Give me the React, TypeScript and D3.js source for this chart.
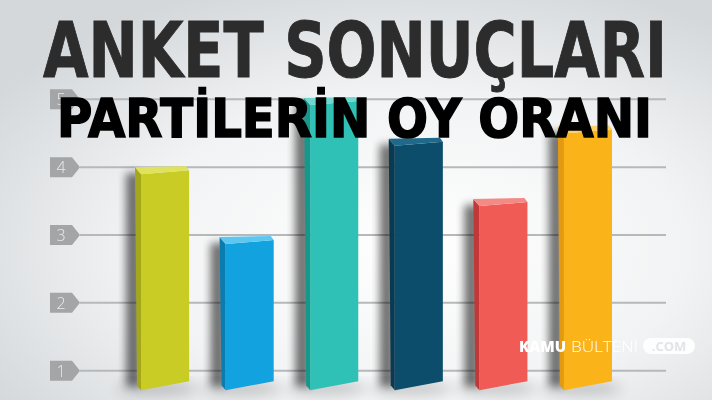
import React, { useEffect, useRef } from "react";
import * as d3 from "d3";

// Party bars (no names shown in the picture), values read against the 1..5 grid
const parties = ["P1", "P2", "P3", "P4", "P5", "P6"];
const values = [4.0, 2.97, 5.02, 4.42, 3.53, 4.6];
const frontColors = ["#c9cc24", "#12a2e0", "#2fc0b6", "#0c4d6b", "#f05b55", "#fbb31a"];
const sideColors = ["#a4a71a", "#0b7cb0", "#15988c", "#083a52", "#c23838", "#e39a10"];
const topColors = ["#dfe25a", "#5cc8f0", "#6cd8cf", "#1f6a8b", "#f48a86", "#fcd066"];
const ticks = [1, 2, 3, 4, 5];

const title = "ANKET SONUÇLARI";
const subtitle = "PARTİLERİN OY ORANI";

export default function App() {
  const svgRef = useRef<SVGSVGElement>(null);

  useEffect(() => {
    if (!svgRef.current) return;
    const width = 712;
    const height = 400;
    const svg = d3.select(svgRef.current);
    svg.selectAll("*").remove();

    const y = d3.scaleLinear().domain([1, 5]).range([370.7, 99.3]);
    const x = d3.scaleBand<string>().domain(parties).range([135, 612]).paddingInner(0.36);
    const base = y(0.86);

    const defs = svg.append("defs");
    const bg = defs.append("radialGradient")
      .attr("id", "bg").attr("cx", "58%").attr("cy", "62%").attr("r", "70%");
    bg.append("stop").attr("offset", "0%").attr("stop-color", "#ffffff");
    bg.append("stop").attr("offset", "55%").attr("stop-color", "#f2f3f4");
    bg.append("stop").attr("offset", "100%").attr("stop-color", "#d4d8db");

    defs.append("filter").attr("id", "blur").attr("x", "-50%").attr("y", "-50%")
      .attr("width", "200%").attr("height", "200%")
      .append("feGaussianBlur").attr("stdDeviation", 4);
    defs.append("filter").attr("id", "blurBig").attr("x", "-50%").attr("y", "-50%")
      .attr("width", "200%").attr("height", "200%")
      .append("feGaussianBlur").attr("stdDeviation", 7);

    svg.append("rect").attr("width", width).attr("height", height).attr("fill", "url(#bg)");

    // grid lines
    svg.append("g")
      .selectAll("line")
      .data(ticks)
      .join("line")
      .attr("x1", 80).attr("x2", 666)
      .attr("y1", d => y(d)).attr("y2", d => y(d))
      .attr("stroke", "#b6b8ba").attr("stroke-width", 2);

    // tick badges
    const tg = svg.append("g").selectAll("g").data(ticks).join("g")
      .attr("transform", d => `translate(0, ${y(d)})`);
    tg.append("path")
      .attr("d", "M50,-10 L72,-10 L80,0 L72,10 L50,10 Z")
      .attr("fill", "#a3a5a7");
    tg.append("text")
      .attr("x", 61).attr("y", 6)
      .attr("text-anchor", "middle")
      .attr("font-family", "'Open Sans', sans-serif")
      .attr("font-weight", 300)
      .attr("font-size", 16)
      .attr("fill", "#e9eaeb")
      .text(d => d);

    // ground shadows
    svg.append("g").selectAll("ellipse").data(parties).join("ellipse")
      .attr("cx", d => (x(d) ?? 0) + x.bandwidth() / 2 - 4)
      .attr("cy", base + 8)
      .attr("rx", x.bandwidth() * 0.75)
      .attr("ry", 6)
      .attr("fill", "#000").attr("opacity", 0.22)
      .attr("filter", "url(#blurBig)");

    // left drop shadows
    svg.append("g").selectAll("rect").data(parties).join("rect")
      .attr("x", d => (x(d) ?? 0) - 9)
      .attr("y", (d, i) => y(values[i]) + 6)
      .attr("width", 15)
      .attr("height", (d, i) => base - y(values[i]))
      .attr("fill", "#000").attr("opacity", 0.55)
      .attr("filter", "url(#blur)");

    const side = 6;
    const bars = svg.append("g").selectAll("g").data(parties).join("g");

    // side face
    bars.append("path")
      .attr("d", (d, i) => {
        const x0 = x(d) ?? 0;
        const t = y(values[i]);
        return `M${x0},${t} L${x0 + side},${t + 7} L${x0 + side},${base + 10} L${x0 + 2},${base + 5} Z`;
      })
      .attr("fill", (d, i) => sideColors[i]);

    // front face
    bars.append("path")
      .attr("d", (d, i) => {
        const x0 = x(d) ?? 0;
        const x1 = x0 + x.bandwidth();
        const t = y(values[i]);
        return `M${x0 + side},${t + 7} L${x1},${t + 3} L${x1},${base + 1} L${x0 + side},${base + 10} Z`;
      })
      .attr("fill", (d, i) => frontColors[i]);

    // top face
    bars.append("path")
      .attr("d", (d, i) => {
        const x0 = x(d) ?? 0;
        const x1 = x0 + x.bandwidth();
        const t = y(values[i]);
        return `M${x0},${t} L${x1 - 3},${t - 1} L${x1},${t + 3} L${x0 + side},${t + 7} Z`;
      })
      .attr("fill", (d, i) => topColors[i]);

    // titles
    svg.append("text")
      .attr("x", 43).attr("y", 77)
      .attr("textLength", 624).attr("lengthAdjust", "spacingAndGlyphs")
      .attr("font-family", "'DejaVu Sans', sans-serif")
      .attr("font-weight", 700)
      .attr("font-size", 76)
      .attr("fill", "#2c2c2c")
      .attr("stroke", "#2c2c2c")
      .attr("stroke-width", 1)
      .text(title);

    svg.append("text")
      .attr("x", 57).attr("y", 137)
      .attr("textLength", 595).attr("lengthAdjust", "spacingAndGlyphs")
      .attr("font-family", "'DejaVu Sans', Verdana, sans-serif")
      .attr("font-weight", 700)
      .attr("font-size", 53)
      .attr("fill", "#000")
      .attr("stroke", "#000")
      .attr("stroke-width", 1.6)
      .text(subtitle);

    // watermark
    const wm = svg.append("g");
    wm.append("text")
      .attr("x", 519).attr("y", 352)
      .attr("textLength", 47).attr("lengthAdjust", "spacingAndGlyphs")
      .attr("font-family", "'Open Sans', sans-serif")
      .attr("font-weight", 800).attr("font-size", 15)
      .attr("fill", "#fff").text("KAMU");
    wm.append("text")
      .attr("x", 571).attr("y", 352)
      .attr("textLength", 67).attr("lengthAdjust", "spacingAndGlyphs")
      .attr("font-family", "'Open Sans', sans-serif")
      .attr("font-weight", 300).attr("font-size", 15)
      .attr("fill", "#fff").text("BÜLTENİ");
    wm.append("rect")
      .attr("x", 643).attr("y", 338).attr("width", 52).attr("height", 16).attr("rx", 8)
      .attr("fill", "#fff").attr("opacity", 0.92);
    wm.append("text")
      .attr("x", 669).attr("y", 351)
      .attr("text-anchor", "middle")
      .attr("font-family", "'Open Sans', sans-serif")
      .attr("font-weight", 700).attr("font-size", 13)
      .attr("fill", "#e2e4e6").text(".COM");
  }, []);

  return (
    <div style={{ position: "fixed", left: 0, top: 0, width: 712, height: 400 }}>
      <svg ref={svgRef} width={712} height={400} style={{ display: "block" }} />
    </div>
  );
}
